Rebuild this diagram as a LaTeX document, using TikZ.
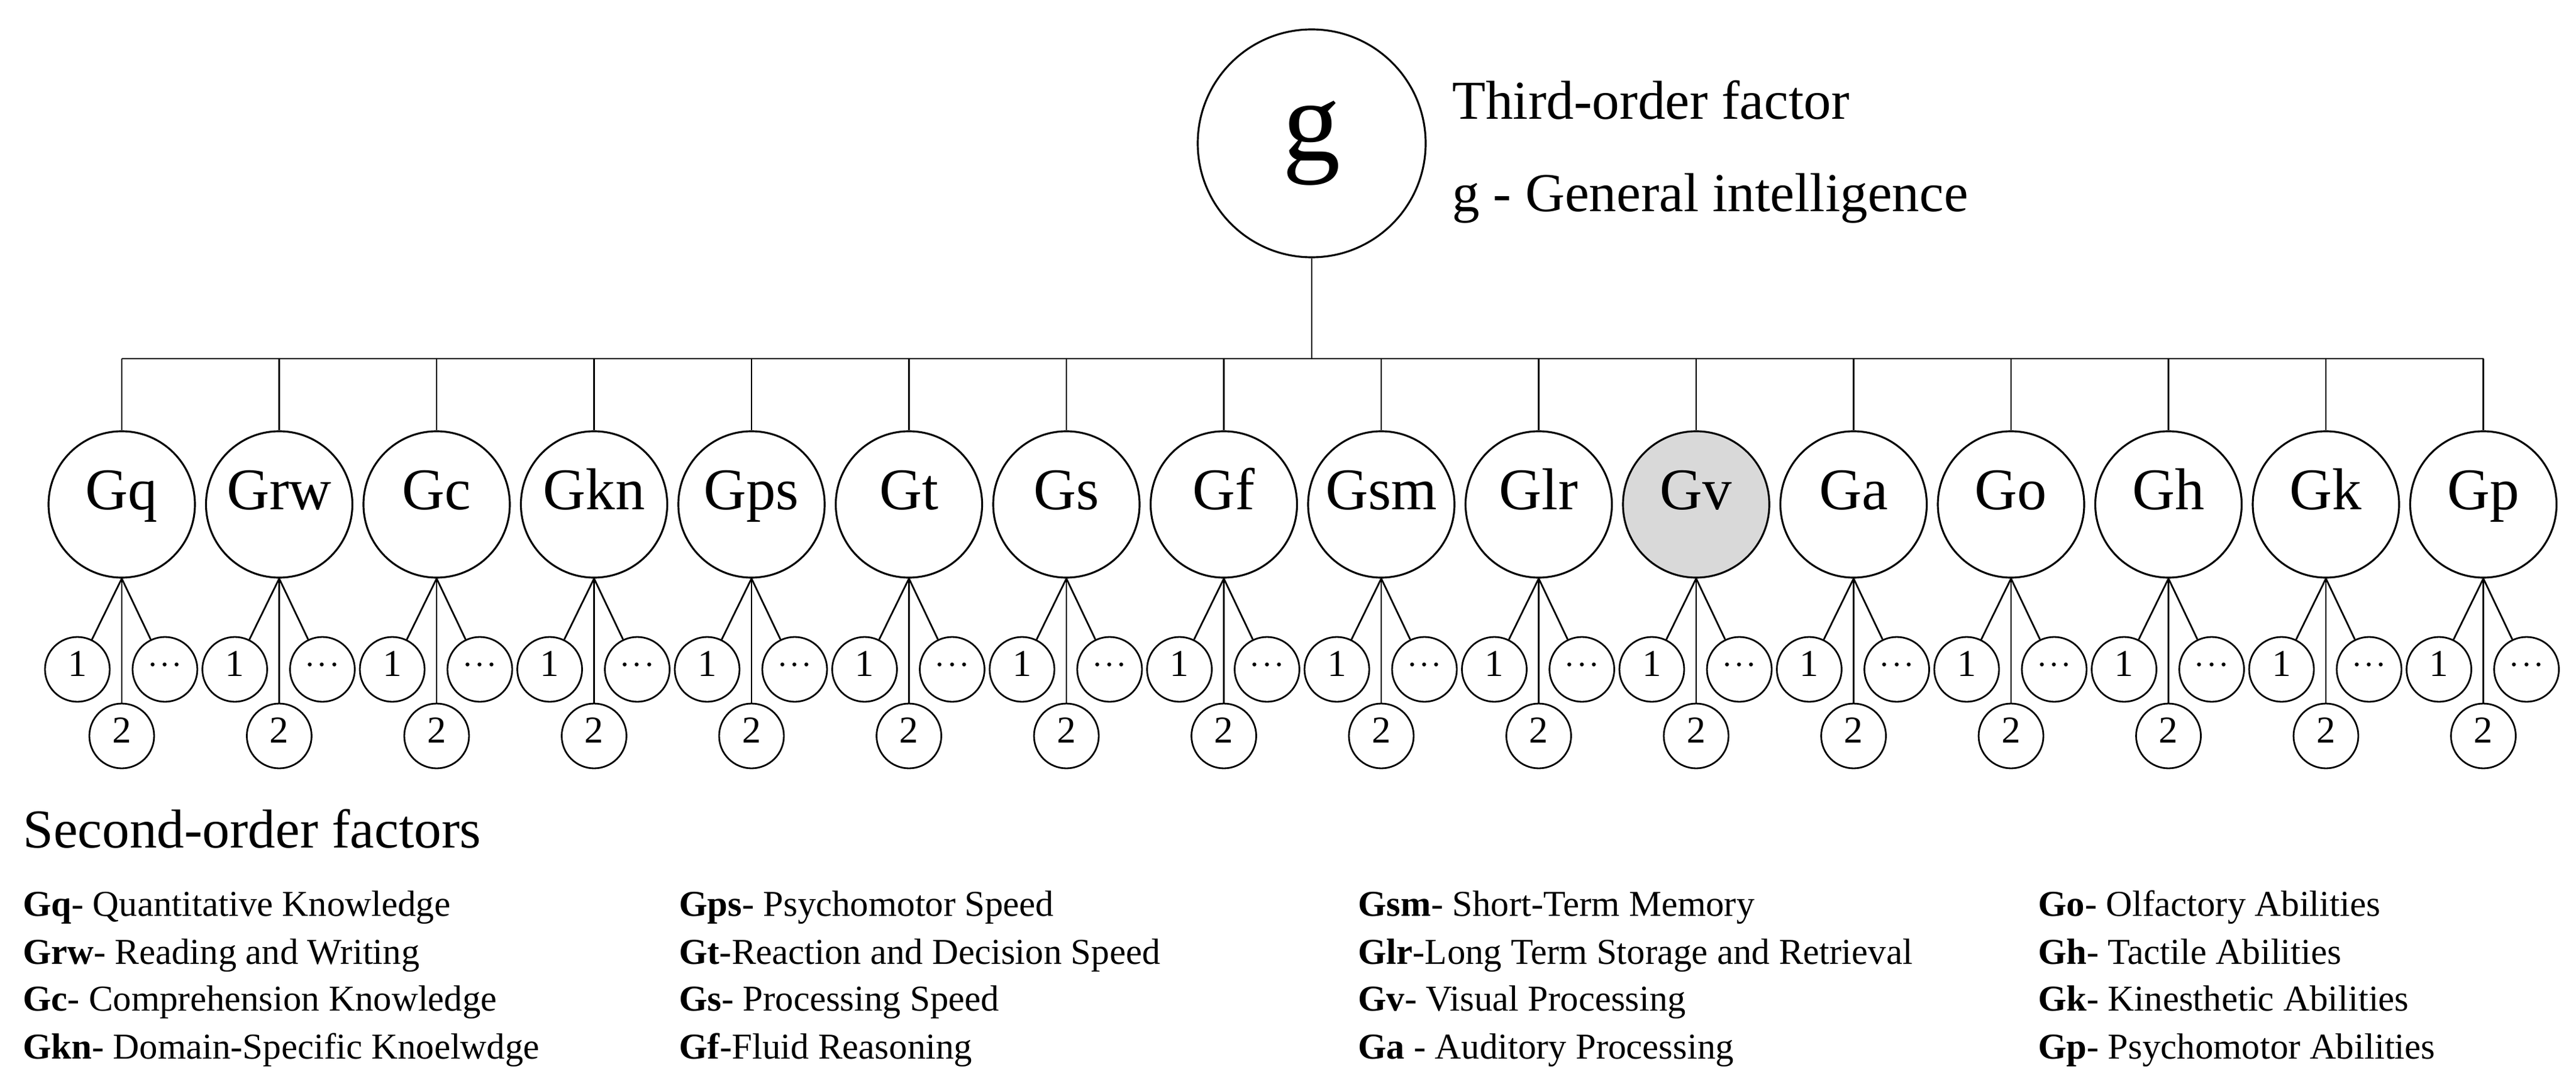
\documentclass[tikz,border=0pt]{standalone}
\usepackage{fontspec}
\setmainfont{Liberation Serif}
\usetikzlibrary{positioning,calc}
\definecolor{shade}{RGB}{217,217,217}
\tikzset{%
  every factor/.style={
    circle,
    draw,
    line width=0.9pt,
    minimum size=2.44cm,
    inner sep=0pt,
    text height=0.68em,
    text depth=0.22em,
    font=\fontsize{28}{30}\selectfont
  },
  factor Gv/.style={fill=shade},
  every item/.style={
    circle,
    draw,
    line width=0.8pt,
    minimum size=1.08cm,
    inner sep=0pt,
    text height=0.68em,
    text depth=0em,
    font=\fontsize{18}{20}\selectfont
  },
  legend/.style={anchor=base west, inner sep=0pt, font=\fontsize{17.3}{20}\selectfont},
  heading/.style={anchor=base west, inner sep=0pt, font=\fontsize{26}{30}\selectfont},
}

\begin{document}
\begin{tikzpicture}[x=1cm, y=1cm, line width=0.8pt]
        \useasboundingbox (0,0) rectangle (42.95,-18.19);
        \node [circle, draw, line width=0.9pt, minimum size=3.8cm, inner sep=0pt,
               font=\fontsize{55}{60}\selectfont] (g) at (21.87,-2.39) {g};
        \node [heading] (third) at (24.2,-1.99) {Third-order factor};
        \node [heading] (gdesc) at (24.2,-3.53) {g - General intelligence};
        \coordinate (bus) at (21.87,-5.98);
        \draw (g) -- (bus);

        \foreach \m [count=\y] in {Gq,Grw,Gc,Gkn,Gps,Gt,Gs,Gf,Gsm,Glr,Gv,Ga,Go,Gh,Gk,Gp}
          {
            \node [every factor/.try, factor \m/.try] (f-\y) at (2.03+2.625*\y-2.625,-8.41) {\m};
            \coordinate (top-\y) at (2.03+2.625*\y-2.625,-5.98);
            \node [every item/.try] (f-\y-1) at ($(f-\y)+(-0.74,-2.75)$) {1};
            \node [every item/.try, text height=0.45em] (f-\y-3) at ($(f-\y)+(0.72,-2.75)$) {$\cdot\!\cdot\!\cdot$};
            \node [every item/.try] (f-\y-2) at ($(f-\y)+(0,-3.86)$) {2};
            \draw (top-\y) -- (f-\y);
            \foreach \i in {1,2,3}
              \draw (f-\y.south) -- (f-\y-\i);
          }
        \draw (top-1) -- (top-16);

        \node [heading] (second) at (0.37,-14.13) {Second-order factors};
        \foreach \c/\r/\k/\t in {
            0.37/15.27/Gq/- Quantitative Knowledge,
            0.37/16.07/Grw/- Reading and Writing,
            0.37/16.85/Gc/- Comprehension Knowledge,
            0.37/17.65/Gkn/- Domain-Specific Knoelwdge,
            11.31/15.27/Gps/- Psychomotor Speed,
            11.31/16.07/Gt/-Reaction and Decision Speed,
            11.31/16.85/Gs/- Processing Speed,
            11.31/17.65/Gf/-Fluid Reasoning,
            22.63/15.27/Gsm/- Short-Term Memory,
            22.63/16.07/Glr/-Long Term Storage and Retrieval,
            22.63/16.85/Gv/- Visual Processing,
            22.63/17.65/Ga/ - Auditory Processing,
            33.97/15.27/Go/- Olfactory Abilities,
            33.97/16.07/Gh/- Tactile Abilities,
            33.97/16.85/Gk/- Kinesthetic Abilities,
            33.97/17.65/Gp/- Psychomotor Abilities}
          \node [legend] (leg-\k) at (\c,-\r) {\textbf{\k}\t};
\end{tikzpicture}
\end{document}
